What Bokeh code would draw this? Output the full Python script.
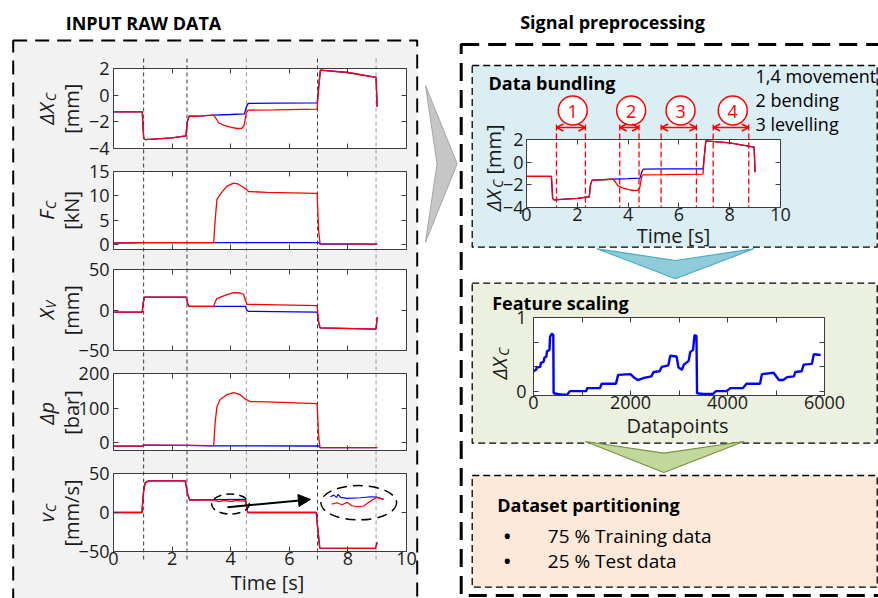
import math
from bokeh.plotting import figure
from bokeh.models import (Range1d, LinearAxis, FixedTicker, ColumnDataSource, Arrow,
                          OpenHead, NormalHead)
from bokeh.layouts import column
from bokeh.core.properties import value
from bokeh.embed import file_html
from bokeh.resources import INLINE

# ======================= DATA =======================
time_ticks = [0, 2, 4, 6, 8, 10]
cut_times = [1.02, 2.5, 4.53, 6.96, 8.96]

# displacement difference dX_C [mm]
dx_t_blue = [0, 0.98, 1.03, 1.08, 2.0, 2.47, 2.52, 2.58, 3.0, 3.42, 4.0, 4.47, 4.53, 4.6, 5.5, 6.95, 7.0, 7.06, 8.0, 8.96, 9.0]
dx_blue = [-1.25, -1.25, -3.2, -3.33, -3.2, -3.05, -2.0, -1.58, -1.55, -1.5, -1.45, -1.4, -0.9, -0.62, -0.6, -0.58, 0.5, 1.88, 1.7, 1.33, -0.88]
dx_t_red = [0, 0.98, 1.03, 1.08, 2.0, 2.47, 2.52, 2.58, 3.0, 3.42, 3.5, 3.59, 3.76, 3.99, 4.21, 4.38, 4.46, 4.53, 4.6, 5.5, 6.95, 7.0, 7.06, 8.0, 8.96, 9.0]
dx_red = [-1.25, -1.25, -3.2, -3.33, -3.2, -3.05, -2.0, -1.58, -1.55, -1.5, -1.75, -2.07, -2.25, -2.4, -2.5, -2.48, -2.25, -1.3, -1.12, -1.1, -1.05, 0.5, 1.88, 1.7, 1.33, -0.88]

# force F_C [kN]
fc_t_blue = [0, 1.0, 3.42, 7.0, 7.05, 9.0]
fc_blue = [0.3, 0.4, 0.4, 0.4, 0.1, 0.1]
fc_t_red = [0, 1.0, 3.42, 3.47, 3.53, 3.64, 3.87, 4.1, 4.27, 4.5, 4.61, 5.24, 6.95, 7.0, 7.05, 9.0]
fc_red = [0.3, 0.4, 0.4, 5.0, 9.3, 10.3, 12.0, 12.6, 12.4, 11.5, 10.9, 10.7, 10.5, 3.0, 0.2, 0.1]

# valve spool X_V [mm]
xv_t_blue = [0, 0.98, 1.02, 1.06, 2.48, 2.53, 2.58, 4.5, 4.55, 4.6, 6.95, 7.0, 7.05, 8.96, 9.0]
xv_blue = [-2.5, -2.5, 10, 16, 16, 8, 4.5, 4.5, 0, -1.7, -2.5, -15, -22, -23.5, -8.7]
xv_t_red = [0, 0.98, 1.02, 1.06, 2.48, 2.53, 2.58, 3.42, 3.47, 3.53, 3.87, 4.1, 4.33, 4.44, 4.5, 4.56, 6.95, 7.0, 7.05, 8.96, 9.0]
xv_red = [-2.5, -2.5, 10, 16, 16, 8, 4.5, 4.5, 10, 14, 19, 21.5, 21, 19.4, 12, 7, 5.4, -15, -22, -23.5, -8.7]

# pressure difference dp [bar]
dp_t_blue = [0, 0.98, 1.02, 2.5, 3.42, 7.0, 7.05, 9.0]
dp_blue = [-9.6, -9.6, -6.7, -7.5, -8.5, -9, -13.5, -13.5]
dp_t_red = [0, 0.98, 1.02, 2.5, 3.42, 3.47, 3.53, 3.64, 3.87, 4.1, 4.33, 4.5, 4.67, 5.24, 6.95, 7.0, 7.05, 9.0]
dp_red = [-9.6, -9.6, -6.7, -7.5, -8, 60, 104, 125, 139, 145, 139, 126, 119, 118, 113, 20, -13.5, -13.5]

# cylinder velocity v_C [mm/s]
vc_t_blue = [0, 0.97, 1.02, 1.08, 1.2, 2.45, 2.52, 2.6, 3.4, 4.5, 4.58, 6.92, 6.97, 7.04, 8.94, 9.0]
vc_blue = [0, 0, 25, 38, 40.5, 40.5, 25, 16, 16.5, 16.8, 0, 0, -20, -45.7, -46, -38.5]
vc_t_red = [0, 0.97, 1.02, 1.08, 1.2, 2.45, 2.52, 2.6, 3.4, 3.6, 3.8, 4.0, 4.2, 4.4, 4.5, 4.58, 6.92, 6.97, 7.04, 8.94, 9.0]
vc_red = [0, 0, 25, 38, 40.5, 40.5, 25, 16, 16, 14, 15.5, 14, 15.5, 14.5, 15, 0, 0, -20, -45.7, -46, -38.5]

# magnified detail shown inside the large ellipse (v_C panel coordinates)
zoom_t_blue = [7.40, 7.52, 7.61, 7.67, 7.75, 7.97, 8.43, 8.77, 9.0, 9.22]
zoom_blue = [20.2, 22.3, 19.4, 23.2, 19.4, 18.1, 18.9, 20.2, 19.6, 16.8]
zoom_t_red = [7.45, 7.63, 7.80, 7.97, 8.14, 8.31, 8.54, 8.66, 8.83, 9.0, 9.22]
zoom_red = [10.8, 12.5, 10.0, 13.0, 8.7, 7.4, 8.3, 11.7, 15.9, 19.4, 16.8]

# data bundling segments [s]
bund_starts = [1.18, 3.67, 5.30, 7.35]
bund_ends = [2.32, 4.43, 6.69, 8.75]
bund_labels = ["1", "2", "3", "4"]
bund_legend = ["1,4 movement", "2 bending", "3 levelling"]

# feature scaling (normalised dX_C over datapoints)
fs_ticks = [0, 1000, 2000, 3000, 4000, 5000, 6000]
fs_dp = [0, 55, 65, 140, 150, 210, 222, 265, 278, 330, 342, 380, 408, 415, 500, 600, 700, 750, 1000, 1090,
         1105, 1370, 1405, 1700, 1745, 2000, 2080, 2150, 2280, 2430, 2475, 2600, 2645, 2780, 2820, 2950, 2990,
         3060, 3100, 3200, 3230, 3290, 3320, 3360, 3372, 3500, 3700, 3760, 3980, 4060, 4320, 4390, 4670, 4710,
         4950, 5060, 5150, 5230, 5370, 5400, 5530, 5570, 5740, 5780, 5920]
fs_val = [0.27, 0.29, 0.32, 0.33, 0.38, 0.40, 0.45, 0.47, 0.54, 0.56, 0.74, 0.78, 0.76, -0.03, -0.04, -0.05,
          -0.045, 0.0, 0.0, 0.0, 0.04, 0.04, 0.10, 0.10, 0.22, 0.23, 0.18, 0.15, 0.18, 0.20, 0.26, 0.27, 0.33,
          0.35, 0.48, 0.47, 0.32, 0.29, 0.36, 0.41, 0.53, 0.56, 0.76, 0.75, -0.03, -0.04, -0.04, 0.0, 0.0, 0.04,
          0.04, 0.10, 0.10, 0.23, 0.25, 0.15, 0.15, 0.19, 0.20, 0.26, 0.27, 0.36, 0.37, 0.50, 0.49]
fs_yticks = [0, 1 / 3, 2 / 3, 1]

partition_items = ["75 % Training data", "25 % Test data"]

# ======================= LAYOUT / STYLE =======================
W, H = 878, 598
FONT = "Open Sans"
RED, BLUE = "#ff0000", "#0000ff"
FRAME_C, TICK_C, LABEL_C = "#3d3d3d", "#3d3d3d", "#1a1a1a"

F1 = (113.3, 68.3, 406, 148.3)
F2 = (113.3, 170.7, 406, 249)
F3 = (113.3, 269.3, 406, 350)
F4 = (113.3, 373.3, 406, 450.7)
F5 = (113.3, 473.3, 406, 551.7)
FB = (526, 139, 780, 206.7)
FF = (533.3, 317, 824, 395.5)

bg = figure(width=W, height=H, x_range=Range1d(0, W), y_range=Range1d(H, 0),
            toolbar_location=None, output_backend="svg", x_axis_type=None, y_axis_type=None,
            min_border=0, outline_line_color=None, background_fill_color="white",
            border_fill_color="white", frame_align=False)


def data_range(lo, hi, p0, p1, total=W):
    ppu = (p1 - p0) / (hi - lo)
    return Range1d(lo - p0 / ppu, lo + (total - p0) / ppu)


bg.extra_x_ranges = {"raw": data_range(0, 10, F1[0], F1[2]),
                     "bund": data_range(0, 10, FB[0], FB[2])}

# boxes
bg.quad(left=[12.7], right=[416.7], top=[40], bottom=[610], fill_color="#f2f2f2",
        line_color="black", line_width=2, line_dash="14 8")
bg.quad(left=[460.7], right=[900], top=[44], bottom=[595], fill_color=None,
        line_color="black", line_width=3, line_dash="18 9")
bg.quad(left=[471.7], right=[876.7], top=[65], bottom=[246.7], fill_color="#dbeef4",
        line_color="black", line_width=1.3, line_dash="7 4")
bg.quad(left=[471.7], right=[876.7], top=[282.7], bottom=[442.7], fill_color="#ebf1de",
        line_color="black", line_width=1.3, line_dash="7 4")
bg.quad(left=[471.7], right=[876.7], top=[475], bottom=[586.7], fill_color="#fde9d9",
        line_color="black", line_width=1.3, line_dash="7 4")

# white plot frames
frames = [F1, F2, F3, F4, F5, FB, FF]
bg.quad(left=[f[0] for f in frames], right=[f[2] for f in frames],
        top=[f[1] for f in frames], bottom=[f[3] for f in frames],
        fill_color="white", line_color=None)

# dashed time markers across the raw-data panels
bg.segment(x0=cut_times, x1=cut_times, y0=[58] * len(cut_times), y1=[560] * len(cut_times),
           x_range_name="raw", line_color=["#3a3a3a", "#3a3a3a", "#9a9a9a", "#3a3a3a", "#9a9a9a"],
           line_dash="4 3", line_width=1)

# data bundling markers
cuts = bund_starts + bund_ends
bg.segment(x0=cuts, x1=cuts, y0=[124] * len(cuts), y1=[FB[3]] * len(cuts), x_range_name="bund",
           line_color=RED, line_dash="6 3", line_width=1.3)
src = ColumnDataSource(dict(x0=bund_starts, x1=bund_ends, y=[127] * len(bund_starts)))
bg.add_layout(Arrow(source=src, x_start="x0", x_end="x1", y_start="y", y_end="y", x_range_name="bund",
                    line_color=RED, line_width=1.5,
                    start=OpenHead(size=7, line_color=RED, line_width=1.5),
                    end=OpenHead(size=7, line_color=RED, line_width=1.5)))
centers = [(a + b) / 2 + 0.07 for a, b in zip(bund_starts, bund_ends)]
bg.scatter(x=centers, y=[110] * len(centers), marker="circle", size=29, fill_color="white",
           line_color=RED, line_width=1.5, x_range_name="bund")
bg.text(x=centers, y=[111] * len(centers), text=bund_labels, x_range_name="bund",
        text_font=value(FONT), text_font_size="18px", text_color=RED,
        text_align="center", text_baseline="middle")

# arrows
bg.patch(x=[425, 456.7, 425, 436.5], y=[85, 163.3, 241.7, 163.3], fill_color="#c6c6c6",
         line_color="#a6a6a6", line_width=1)
bg.patch(x=[596.7, 675, 753.3, 675], y=[248.3, 260, 248.3, 278.3], fill_color="#8fcbd9",
         line_color="#4bacc6", line_width=1.2)
bg.patch(x=[585, 663.3, 743.3, 663.3], y=[441, 452.7, 441, 472], fill_color="#c3d69b",
         line_color="#77933c", line_width=1.2)


def txt(x, y, s, size=18, style="normal", align="left", color="black", angle=0.0):
    bg.text(x=[x], y=[y], text=[s], text_font=value(FONT), text_font_size=f"{size}px",
            text_font_style=style, text_align=align, text_baseline="middle",
            text_color=color, angle=angle)


def vlabel(x, yc, parts):
    # parts: (text, size, style, advance, dx)
    total = sum(p[3] for p in parts)
    pos = yc + total / 2
    for s, size, style, adv, dx in parts:
        if s:
            txt(x + dx, pos, s, size, style, align="left", color=LABEL_C, angle=math.pi / 2)
        pos -= adv


txt(143, 22, "INPUT RAW DATA", 18, "bold", "center")
txt(612, 21, "Signal preprocessing", 18, "bold", "center")
txt(488, 82, "Data bundling", 18, "bold")
for i, s in enumerate(bund_legend):
    txt(755, 75 + 24 * i, s, 18)
txt(491.7, 302, "Feature scaling", 18, "bold")
txt(496.7, 504, "Dataset partitioning", 18, "bold")
for i, s in enumerate(partition_items):
    txt(506.7, 535 + 25 * i, "\u2022", 24, "normal", "center")
    txt(547.3, 535 + 25 * i, s, 19)
txt(267, 582, "Time [s]", 20, "normal", "center", LABEL_C)
txt(673, 235, "Time [s]", 20, "normal", "center", LABEL_C)
txt(677, 425, "Datapoints", 20, "normal", "center", LABEL_C)

# y labels of raw-data panels
L1X, L2X = 46, 71
ylab = [
    (F1, [("\u0394X", 20, "italic", 23.4, 0), ("C", 14, "italic", 8.4, 4)], "[mm]"),
    (F2, [("F", 20, "italic", 10.5, 0), ("C", 14, "italic", 8.4, 4)], "[kN]"),
    (F3, [("X", 20, "italic", 11, 0), ("V", 14, "italic", 7.7, 4)], "[mm]"),
    (F4, [("\u0394p", 20, "italic", 24.4, 0)], "[bar]"),
    (F5, [("v", 20, "italic", 10, 0), ("C", 14, "italic", 8.4, 4)], "[mm/s]"),
]
for fr, parts, unit in ylab:
    yc = (fr[1] + fr[3]) / 2
    vlabel(L1X, yc, parts)
    txt(L2X, yc, unit, 20, "normal", "center", LABEL_C, math.pi / 2)
vlabel(493, 167.5, [("\u0394X", 20, "italic", 23.4, 0), ("C", 14, "italic", 13.4, 4),
                    ("[mm]", 20, "normal", 50, 0)])
vlabel(498.5, 363, [("\u0394X", 20, "italic", 23.4, 0), ("C", 14, "italic", 8.4, 4)])


# ======================= PANELS =======================
def make_panel(frame, xr, yr, xticks, yticks, xshow=True, fs="18px", xstand=0, ystand=4,
               xover=None, yover=None):
    L, T, R, B = frame
    ML, MT, MR, MB = 70, 30, 40, 45
    f = figure(frame_width=int(round(R - L)), frame_height=int(round(B - T)),
               x_range=Range1d(*xr), y_range=Range1d(*yr),
               min_border_left=ML, min_border_top=MT, min_border_right=MR, min_border_bottom=MB,
               toolbar_location=None, output_backend="svg", x_axis_type=None, y_axis_type=None,
               background_fill_color=None, border_fill_color=None,
               outline_line_color=FRAME_C, outline_line_width=1, frame_align=False)
    f.styles = {"position": "absolute", "left": f"{L - ML}px", "top": f"{T - MT}px"}
    common = dict(axis_line_color=None, major_tick_in=5, major_tick_out=0,
                  minor_tick_line_color=None, major_tick_line_color=TICK_C,
                  major_label_text_font=FONT)
    specs = [("below", xticks, xshow, xstand, xover), ("above", xticks, False, 0, None),
             ("left", yticks, True, ystand, yover), ("right", yticks, False, 0, None)]
    for loc, ticks, show, stand, over in specs:
        ax = LinearAxis(ticker=FixedTicker(ticks=ticks), major_label_standoff=stand, **common)
        if show:
            ax.major_label_text_font_size = fs
            ax.major_label_text_color = LABEL_C
            if over:
                ax.major_label_overrides = over
        else:
            ax.major_label_text_font_size = "10px"
            ax.major_label_text_color = None
            ax.major_label_overrides = {t: "" for t in ticks}
        f.add_layout(ax, loc)
    return f


def pair(f, tb, yb, tr, yr_, w=1.3):
    f.line(tb, yb, line_color=BLUE, line_width=w)
    f.line(tr, yr_, line_color=RED, line_width=w)


p1 = make_panel(F1, (0, 10), (-4, 2), time_ticks, [-4, -2, 0, 2], xshow=False)
pair(p1, dx_t_blue, dx_blue, dx_t_red, dx_red)
p2 = make_panel(F2, (0, 10), (-1, 15), time_ticks, [0, 5, 10, 15], xshow=False)
pair(p2, fc_t_blue, fc_blue, fc_t_red, fc_red)
p3 = make_panel(F3, (0, 10), (-50, 50), time_ticks, [-50, 0, 50], xshow=False)
pair(p3, xv_t_blue, xv_blue, xv_t_red, xv_red)
p4 = make_panel(F4, (0, 10), (-22, 200), time_ticks, [0, 100, 200], xshow=False)
pair(p4, dp_t_blue, dp_blue, dp_t_red, dp_red)
p5 = make_panel(F5, (0, 10), (-50, 50), time_ticks, [-50, 0, 50], xshow=True)
pair(p5, vc_t_blue, vc_blue, vc_t_red, vc_red)
p5.ellipse(x=[3.99], y=[10.8], width=37.7, height=20, width_units="screen", height_units="screen",
           fill_color=None, line_color="black", line_width=1.5, line_dash="8 5")
p5.ellipse(x=[8.37], y=[12.5], width=75.7, height=34.3, width_units="screen", height_units="screen",
           fill_color=None, line_color="black", line_width=1.5, line_dash="10 6")
p5.add_layout(Arrow(x_start=3.89, y_start=6.6, x_end=6.72, y_end=16.8, line_color="black",
                    line_width=2, end=NormalHead(size=12, fill_color="black", line_color="black")))
pair(p5, zoom_t_blue, zoom_blue, zoom_t_red, zoom_red, w=1.2)

pb = make_panel(FB, (0, 10), (-4, 2), time_ticks, [-4, -2, 0, 2], fs="18px", ystand=3)
pair(pb, dx_t_blue, dx_blue, dx_t_red, dx_red)

pf = make_panel(FF, (0, 6000), (-0.06, 1), fs_ticks, fs_yticks, fs="18px", ystand=7,
                xover={1000: "", 3000: "", 5000: ""},
                yover={fs_yticks[1]: "", fs_yticks[2]: ""})
pf.line(fs_dp, fs_val, line_color=BLUE, line_width=2.4)

root = column(bg, p1, p2, p3, p4, p5, pb, pf)
root.styles = {"position": "relative"}

open("out.html", "w").write(file_html(root, INLINE))
